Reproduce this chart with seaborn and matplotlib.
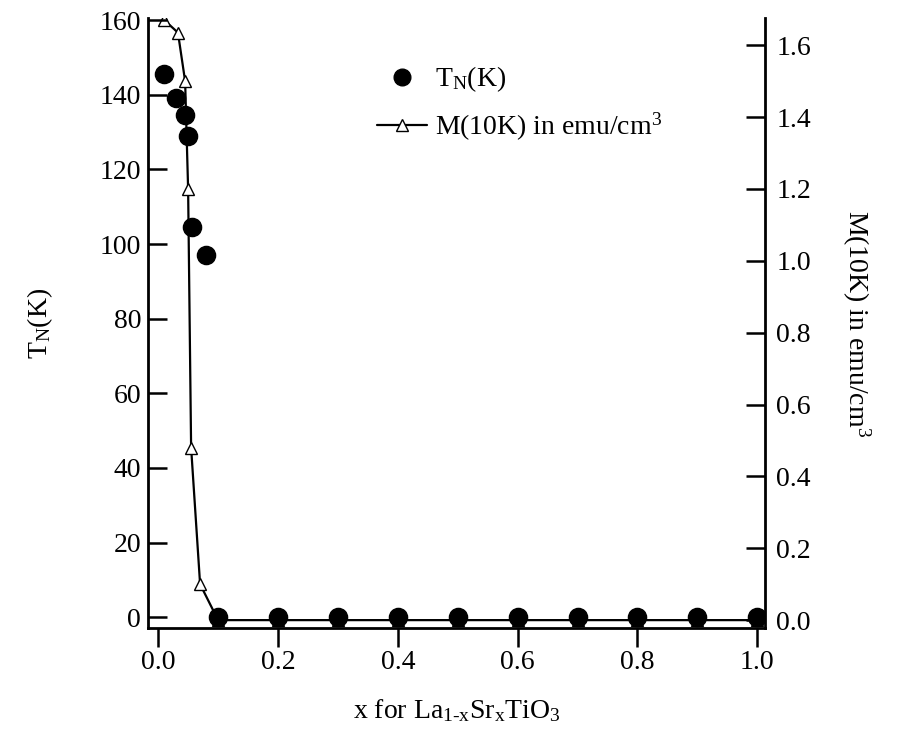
import matplotlib
matplotlib.use("Agg")
import matplotlib.pyplot as plt
import seaborn as sns
import pandas as pd
from matplotlib.lines import Line2D

# Neel temperature vs Sr content
x_tn = [0.01, 0.03, 0.045, 0.05, 0.057, 0.08, 0.1, 0.2, 0.3, 0.4, 0.5, 0.6, 0.7, 0.8, 0.9, 1.0]
tn_k = [145.5, 139, 134.5, 129, 104.5, 97, 0, 0, 0, 0, 0, 0, 0, 0, 0, 0]

# Magnetization at 10 K
x_m = [0.01, 0.033, 0.045, 0.05, 0.055, 0.07, 0.1, 0.2, 0.3, 0.4, 0.5, 0.6, 0.7, 0.8, 0.9, 1.0]
m_10k = [1.67, 1.635, 1.50, 1.20, 0.48, 0.10, 0, 0, 0, 0, 0, 0, 0, 0, 0, 0]

left_ticks = [0, 20, 40, 60, 80, 100, 120, 140, 160]
right_ticks = [0.0, 0.2, 0.4, 0.6, 0.8, 1.0, 1.2, 1.4, 1.6]
x_ticks = [0.0, 0.2, 0.4, 0.6, 0.8, 1.0]

FS = 20

sns.set_style("ticks", {"axes.edgecolor": "black", "text.color": "black",
                        "axes.labelcolor": "black", "xtick.color": "black",
                        "ytick.color": "black"})
plt.rcParams["font.family"] = ["Liberation Serif", "DejaVu Serif"]
plt.rcParams["mathtext.fontset"] = "custom"
plt.rcParams["mathtext.rm"] = "Liberation Serif"
plt.rcParams["mathtext.it"] = "Liberation Serif"

fig = plt.figure(figsize=(8.99, 7.29), dpi=100)
ax = fig.add_axes([0.1646, 0.1385, 0.6864, 0.8365])
ax2 = ax.twinx()

df_tn = pd.DataFrame({"x": x_tn, "T": tn_k})
df_m = pd.DataFrame({"x": x_m, "M": m_10k})

sns.lineplot(data=df_m, x="x", y="M", ax=ax2, color="black", linewidth=1.6,
             marker="^", markersize=9, markerfacecolor="white",
             markeredgecolor="black", markeredgewidth=1.0, zorder=2, legend=False)
sns.scatterplot(data=df_tn, x="x", y="T", ax=ax, color="black", s=170,
                edgecolor="black", zorder=3, legend=False)

ax.set_zorder(ax2.get_zorder() + 1)
ax.patch.set_visible(False)

ax.set_xlim(-0.017, 1.013)
ax.set_ylim(-2.9, 160.5)
ax2.set_ylim(-0.022, 1.675)

ax.set_xticks(x_ticks)
ax.set_xticklabels([f"{v:.1f}" for v in x_ticks])
ax.set_yticks(left_ticks)
ax.set_yticklabels([str(v) for v in left_ticks])
ax2.set_yticks(right_ticks)
ax2.set_yticklabels([f"{v:.1f}" for v in right_ticks])

for a in (ax, ax2):
    a.spines["top"].set_visible(False)
    for s in a.spines.values():
        s.set_linewidth(2)
        s.set_color("black")

ax.spines["right"].set_visible(False)
ax2.spines["left"].set_visible(False)
ax2.spines["bottom"].set_visible(False)

ax.tick_params(axis="y", direction="in", length=14, width=1.8, labelsize=FS, pad=5, colors="black")
ax.tick_params(axis="x", direction="out", length=14, width=1.8, labelsize=FS, pad=2, colors="black")
ax2.tick_params(axis="y", direction="in", length=14, width=1.8, labelsize=FS, pad=8, colors="black")

ax.set_xlabel(r"x for La$_{1\text{-}x}$Sr$_x$TiO$_3$", fontsize=FS, labelpad=16, color="black")
ax.set_ylabel(r"T$_N$(K)", fontsize=FS, labelpad=32, color="black")
ax2.set_ylabel(r"M(10K) in emu/cm$^3$", fontsize=FS, rotation=270, labelpad=44, color="black")

handles = [
    Line2D([], [], linestyle="none", marker="o", markersize=12,
           color="black", markerfacecolor="black"),
    Line2D([], [], color="black", linewidth=1.6, marker="^", markersize=9,
           markerfacecolor="white", markeredgecolor="black"),
]
labels = [r"T$_N$(K)", r"M(10K) in emu/cm$^3$"]
leg = ax.legend(handles, labels, loc="upper left", bbox_to_anchor=(0.33, 0.965),
                frameon=False, fontsize=FS, handlelength=1.8, handletextpad=0.3,
                labelspacing=0.6)
for t in leg.get_texts():
    t.set_color("black")

fig.savefig("out.png", dpi=100)
